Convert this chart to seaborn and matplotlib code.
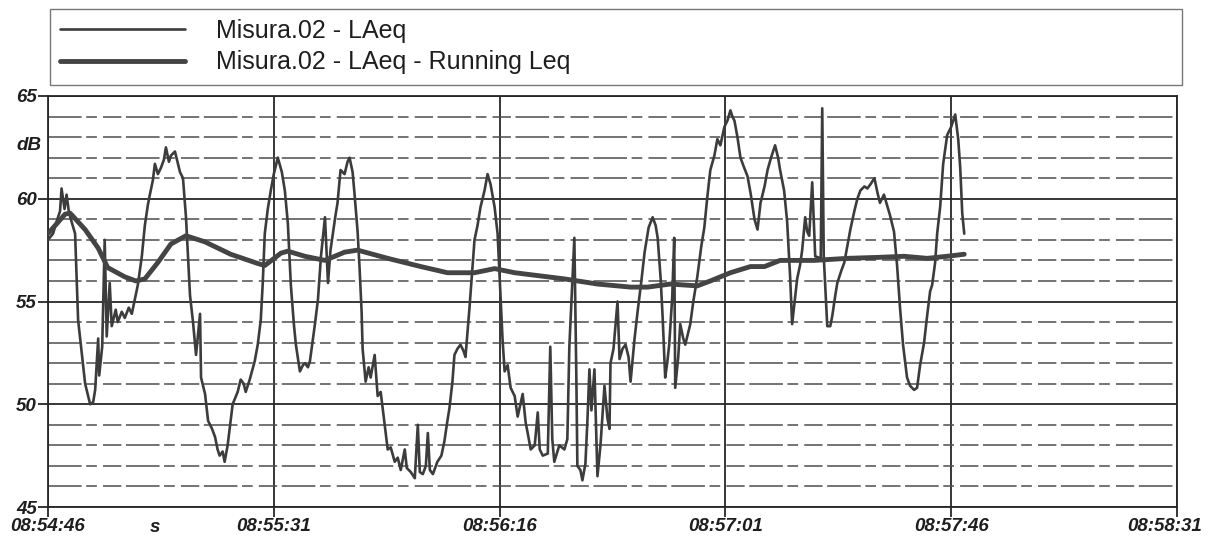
import matplotlib

matplotlib.use("Agg")

import matplotlib.pyplot as plt
import matplotlib.transforms as mtransforms
import pandas as pd
import seaborn as sns
from matplotlib.lines import Line2D
from matplotlib.ticker import MultipleLocator

# seconds since 08:54:46
laeq_seconds = [
    0.0, 1.0, 1.6, 2.4, 2.7, 3.3, 3.7, 4.2, 4.8, 5.4,
    6.0, 6.4, 7.4, 8.4, 9.0, 9.4, 10.0, 10.2, 10.8, 11.3,
    11.7, 12.3, 12.7, 13.5, 13.9, 14.7, 15.3, 16.1, 16.7, 17.9,
    18.7, 19.3, 19.9, 20.3, 20.9, 21.3, 21.9, 22.5, 23.1, 23.5,
    24.1, 24.5, 25.3, 25.9, 26.3, 26.9, 27.5, 28.3, 28.9, 29.5,
    30.3, 30.5, 31.3, 31.9, 32.7, 33.3, 33.8, 34.2, 34.8, 35.2,
    35.8, 36.8, 37.8, 38.4, 39.0, 39.4, 40.2, 41.2, 41.8, 42.4,
    42.8, 43.2, 43.8, 44.4, 45.0, 45.8, 46.6, 47.2, 47.8, 48.4,
    49.0, 49.4, 50.2, 50.8, 51.2, 51.8, 52.2, 53.2, 53.8, 54.4,
    55.2, 55.6, 55.8, 56.3, 57.3, 57.7, 58.3, 59.1, 59.7, 60.1,
    60.7, 61.1, 61.7, 62.1, 62.5, 62.7, 63.3, 63.9, 64.3, 65.1,
    65.7, 66.3, 66.7, 67.3, 67.7, 68.3, 69.1, 69.7, 70.3, 71.1,
    71.5, 72.3, 73.1, 73.7, 74.1, 74.7, 75.3, 75.7, 76.1, 76.7,
    77.6, 78.4, 79.0, 79.6, 80.0, 80.6, 81.0, 81.6, 82.2, 82.8,
    83.2, 84.0, 85.0, 85.6, 86.2, 87.0, 87.6, 88.2, 89.0, 89.6,
    90.2, 90.6, 91.0, 91.6, 92.2, 93.0, 93.6, 94.6, 95.2, 95.6,
    96.2, 97.0, 97.6, 98.0, 98.6, 99.6, 100.1, 100.5, 100.9, 101.9,
    102.9, 103.5, 103.9, 104.9, 105.3, 105.5, 106.1, 106.5, 107.1, 107.5,
    107.9, 108.3, 108.9, 109.5, 110.1, 110.9, 111.5, 111.9, 112.1, 112.7,
    113.5, 113.9, 114.5, 115.1, 115.7, 116.1, 116.9, 117.5, 118.3, 118.9,
    119.7, 120.5, 121.1, 121.5, 122.1, 122.5, 123.0, 123.4, 123.8, 124.4,
    124.8, 125.0, 125.6, 126.0, 126.6, 127.0, 127.6, 128.0, 128.6, 129.4,
    130.2, 130.8, 131.4, 132.0, 132.8, 133.4, 134.0, 134.8, 135.4, 136.0,
    136.4, 136.8, 137.4, 138.0, 138.6, 139.4, 140.0, 140.8, 141.4, 142.0,
    142.8, 143.4, 144.1, 144.9, 145.5, 145.9, 146.7, 147.3, 147.9, 148.3,
    148.9, 149.3, 149.9, 150.3, 150.9, 151.3, 151.7, 152.3, 152.9, 154.0,
    154.3, 154.6, 155.3, 155.9, 156.3, 156.9, 157.3, 158.1, 158.7, 159.3,
    159.9, 160.7, 161.3, 161.9, 162.7, 163.3, 163.9, 164.7, 165.3, 165.8,
    166.6, 167.2, 167.8, 168.6, 169.2, 169.8, 170.4, 171.2, 171.8, 172.6,
    173.2, 173.8, 174.6, 175.2, 175.8, 176.2, 176.8, 177.2, 177.8, 178.4,
    179.2, 180.0, 180.8, 181.4, 181.8, 182.2, 182.6,
]
laeq_db = [
    58.0, 58.3, 58.8, 59.4, 60.5, 59.5, 60.2, 59.3, 58.8, 58.3,
    54.1, 53.2, 51.0, 50.0, 50.1, 50.7, 53.2, 51.4, 52.8, 58.0,
    53.3, 55.9, 53.8, 54.6, 54.0, 54.5, 54.2, 54.7, 54.4, 55.8,
    57.2, 58.7, 59.7, 60.2, 60.9, 61.7, 61.2, 61.5, 61.9, 62.5,
    61.8, 62.1, 62.3, 61.7, 61.3, 61.0, 59.1, 55.3, 54.0, 52.4,
    54.4, 51.3, 50.5, 49.2, 48.8, 48.4, 47.8, 47.5, 47.7, 47.2,
    48.0, 50.0, 50.6, 51.2, 51.0, 50.6, 51.2, 52.1, 52.9, 54.1,
    55.9, 58.3, 59.5, 60.4, 61.2, 62.0, 61.3, 60.4, 58.8, 55.8,
    53.9, 52.9, 51.6, 51.9, 52.0, 51.8, 52.1, 53.9, 55.1, 57.2,
    59.1, 56.9, 55.9, 57.5, 59.2, 59.8, 61.4, 61.2, 61.8, 62.0,
    61.3, 60.2, 58.4, 56.6, 54.5, 52.7, 51.1, 51.8, 51.3, 52.4,
    50.4, 50.6, 49.8, 48.6, 47.8, 47.9, 47.2, 47.4, 46.8, 47.8,
    46.9, 46.7, 46.4, 49.0, 46.7, 46.6, 47.0, 48.6, 46.8, 46.6,
    47.2, 47.5, 48.2, 49.2, 49.8, 51.1, 52.4, 52.7, 52.9, 52.6,
    52.3, 54.7, 58.0, 58.7, 59.6, 60.4, 61.2, 60.7, 59.6, 58.3,
    55.2, 53.1, 51.6, 51.9, 50.8, 50.4, 49.4, 50.5, 49.1, 48.6,
    47.8, 48.0, 49.6, 47.8, 47.5, 47.6, 52.8, 48.3, 47.2, 48.0,
    47.8, 48.3, 52.8, 58.1, 51.2, 47.0, 46.8, 46.3, 47.1, 49.2,
    51.7, 49.7, 51.7, 46.5, 48.0, 50.9, 49.3, 48.8, 52.0, 52.7,
    55.0, 52.2, 52.7, 52.9, 52.3, 51.1, 53.2, 54.5, 56.1, 57.4,
    58.6, 59.1, 58.7, 58.1, 56.1, 54.2, 51.3, 52.0, 52.9, 55.2,
    58.1, 50.8, 52.3, 53.9, 53.2, 52.9, 53.5, 53.9, 55.0, 56.2,
    57.7, 58.6, 60.1, 61.4, 62.1, 62.9, 62.6, 63.5, 63.8, 64.3,
    64.0, 63.8, 63.0, 62.0, 61.6, 61.1, 60.3, 59.0, 58.5, 59.8,
    60.6, 61.4, 62.0, 62.6, 62.0, 61.4, 60.4, 58.9, 56.2, 53.9,
    55.2, 56.1, 56.8, 57.5, 59.1, 58.4, 58.2, 60.8, 57.2, 57.1,
    64.4, 57.2, 53.8, 53.8, 54.3, 55.3, 55.9, 56.5, 56.9, 57.7,
    58.5, 59.4, 60.0, 60.4, 60.6, 60.5, 60.7, 61.0, 60.3, 59.8,
    60.2, 59.7, 59.2, 58.4, 56.8, 54.7, 52.9, 51.3, 50.9, 50.7,
    50.8, 51.9, 53.0, 54.3, 55.5, 55.8, 56.9, 58.3, 59.6, 61.7,
    63.1, 63.5, 64.1, 62.9, 61.5, 59.3, 58.3,
]

running_seconds = [
    0.0, 3.4, 4.4, 7.4, 10.0, 11.9, 15.3, 17.5, 19.3, 21.9,
    24.5, 27.5, 31.3, 36.4, 41.8, 43.2, 46.4, 47.8, 51.2, 55.2,
    59.1, 61.7, 67.7, 74.3, 79.6, 85.0, 89.0, 93.0, 99.6, 102.9,
    109.5, 116.1, 119.5, 124.0, 129.4, 132.0, 136.0, 140.0, 142.8, 145.9,
    152.7, 159.3, 165.8, 170.6, 175.2, 179.2, 182.6,
]
running_db = [
    58.3, 59.25, 59.3, 58.5, 57.6, 56.65, 56.2, 56.0, 56.1, 56.9,
    57.8, 58.2, 57.9, 57.3, 56.85, 56.75, 57.35, 57.45, 57.2, 57.0,
    57.4, 57.5, 57.1, 56.7, 56.4, 56.4, 56.6, 56.4, 56.2, 56.1,
    55.85, 55.7, 55.7, 55.85, 55.76, 56.0, 56.4, 56.7, 56.7, 57.0,
    57.0, 57.1, 57.15, 57.2, 57.1, 57.2, 57.3,
]

tick_seconds = [0, 45, 90, 135, 180, 225]
tick_labels = ["08:54:46", "08:55:31", "08:56:16", "08:57:01", "08:57:46", "08:58:31"]
db_ticks = [45, 50, 55, 60, 65]
series_names = ["Misura.02 - LAeq", "Misura.02 - LAeq - Running Leq"]

INK = "#262626"
THIN = "#3c3c3c"
THICK = "#444444"

sns.set_theme(style="white")
plt.rcParams["font.family"] = ["Liberation Sans", "DejaVu Sans"]

W, H = 1209, 555
fig = plt.figure(figsize=(W / 100, H / 100), dpi=100)
ax = fig.add_axes([48 / W, 1 - 507 / H, (1177 - 48) / W, (507 - 96) / H])

laeq = pd.DataFrame({"t": laeq_seconds, "db": laeq_db})
running = pd.DataFrame({"t": running_seconds, "db": running_db})

sns.lineplot(data=laeq, x="t", y="db", ax=ax, color=THIN, lw=1.9,
             estimator=None, sort=False, zorder=3)
sns.lineplot(data=running, x="t", y="db", ax=ax, color=THICK, lw=3.5,
             estimator=None, sort=False, zorder=4)

ax.set_xlim(0, 225)
ax.set_ylim(45, 65)
ax.set_xticks(tick_seconds)
ax.set_xticklabels(tick_labels)
ax.set_yticks(db_ticks)
ax.set_yticklabels([str(v) for v in db_ticks])
ax.yaxis.set_minor_locator(MultipleLocator(1))
ax.set_xlabel("")
ax.set_ylabel("")

ax.set_axisbelow(True)
ax.grid(which="major", axis="both", color=INK, lw=1.3)
ax.grid(which="minor", axis="y", color="#4d4d4d", lw=1.1,
        linestyle=(0, (22, 3, 7, 4, 12, 3)))

for side in ax.spines.values():
    side.set_color(INK)
    side.set_linewidth(1.3)

ax.tick_params(which="major", bottom=True, left=True, direction="out",
               length=7, width=1.3, color=INK, pad=1, labelsize=13.5,
               labelcolor="#1e1e1e")
ax.tick_params(which="minor", left=False, length=0)
for lbl in ax.get_xticklabels() + ax.get_yticklabels():
    lbl.set_fontweight("bold")
    lbl.set_fontstyle("italic")

# keep the last time label inside the picture
last = ax.get_xticklabels()[-1]
last.set_transform(last.get_transform() + mtransforms.ScaledTranslation(-12 / 100, 0, fig.dpi_scale_trans))

ax.text(-0.017, 62.6, "dB", transform=mtransforms.blended_transform_factory(ax.transAxes, ax.transData),
        ha="center", va="center", fontsize=13.5, fontweight="bold", fontstyle="italic", color="#1e1e1e")
ax.text(21.3, -0.05, "s", transform=mtransforms.blended_transform_factory(ax.transData, ax.transAxes),
        ha="center", va="center", fontsize=13.5, fontweight="bold", fontstyle="italic", color="#1e1e1e")

handles = [Line2D([], [], color=THIN, lw=1.9), Line2D([], [], color=THICK, lw=3.5)]
fig.legend(handles, series_names, loc="upper left",
           bbox_to_anchor=(50 / W, 1 - 86 / H, (1182 - 50) / W, (86 - 9) / H),
           mode="expand", borderaxespad=0, fontsize=18, handlelength=5.0,
           handletextpad=1.25, borderpad=0.4, labelspacing=0.3,
           fancybox=False, framealpha=1, edgecolor="#777777", labelcolor="#1e1e1e")

fig.savefig("out.png", dpi=100, facecolor="white")
